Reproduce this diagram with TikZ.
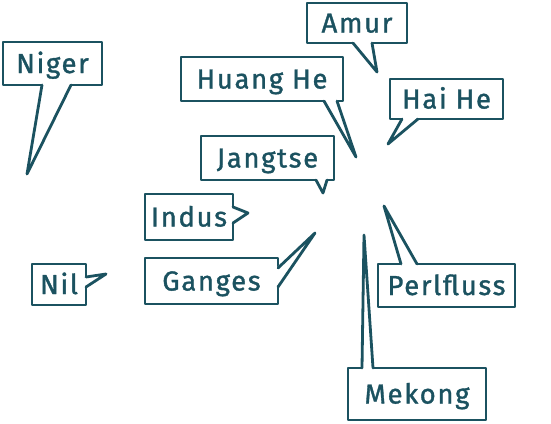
\documentclass[tikz,border=0pt]{standalone}
\usepackage{fontspec}
\setmainfont[LetterSpace=6,FakeBold=1.2]{Fira Sans}
\usetikzlibrary{calc}
\definecolor{ink}{HTML}{1B5260}
\newcommand\calltail[4]{%
  \fill[white] ($(#1)+(#4)$) -- (#2) -- ($(#3)+(#4)$) -- cycle;
  \draw[tailline] (#1) -- (#2) -- (#3);}
\begin{document}
\begin{tikzpicture}[x=1pt,y=-1pt,
  callout/.style={draw=ink, line width=2.8pt, fill=white, text=ink, inner sep=0pt, outer sep=0pt,
    font=\fontsize{27.5}{30}\selectfont, text height=19pt, text depth=0pt, line join=round},
  tailline/.style={draw=ink, line width=2.8pt, line join=round, line cap=round}]
\useasboundingbox[fill=white] (0,0) rectangle (551,423);

\node[callout, anchor=north west, minimum width=99pt, minimum height=43pt] (niger) at (3,42) {Niger};
\node[callout, anchor=north west, minimum width=100pt, minimum height=40pt] (amur) at (307,3) {Amur};
\node[callout, anchor=north west, minimum width=162pt, minimum height=44pt] (huang) at (181,57) {Huang He};
\node[callout, anchor=north west, minimum width=113pt, minimum height=40pt] (hai) at (390,79) {Hai He};
\node[callout, anchor=north west, minimum width=133pt, minimum height=44pt] (jangtse) at (201,136) {Jangtse};
\node[callout, anchor=north west, minimum width=88pt, minimum height=46pt] (indus) at (145,194) {Indus};
\node[callout, anchor=north west, minimum width=54pt, minimum height=41pt] (nil) at (32,264) {Nil};
\node[callout, anchor=north west, minimum width=133pt, minimum height=46pt] (ganges) at (145,258) {Ganges};
\node[callout, anchor=north west, minimum width=137pt, minimum height=43pt] (perl) at (378,264) {Perlfluss};
\node[callout, anchor=north west, minimum width=138pt, minimum height=52pt] (mekong) at (348,368) {Mekong};

% tails
\coordinate (nigerA) at ($(niger.south west)+(39,0)$);
\coordinate (nigerB) at ($(niger.south west)+(68,0)$);
\coordinate (nigerT) at (27,174);
\calltail{nigerA}{nigerT}{nigerB}{0,-1.8}

\coordinate (amurA) at ($(amur.south west)+(46,0)$);
\coordinate (amurB) at ($(amur.south west)+(65,0)$);
\coordinate (amurT) at (377,72);
\calltail{amurA}{amurT}{amurB}{0,-1.8}

\coordinate (huangA) at ($(huang.south west)+(143,0)$);
\coordinate (huangB) at ($(huang.south west)+(156,0)$);
\coordinate (huangT) at (356,157);
\calltail{huangA}{huangT}{huangB}{0,-1.8}

\coordinate (haiA) at ($(hai.south west)+(12,0)$);
\coordinate (haiB) at ($(hai.south west)+(28,0)$);
\coordinate (haiT) at (388,144);
\calltail{haiA}{haiT}{haiB}{0,-1.8}

\coordinate (jangtseA) at ($(jangtse.south west)+(115,0)$);
\coordinate (jangtseB) at ($(jangtse.south west)+(126,0)$);
\coordinate (jangtseT) at (323,193);
\calltail{jangtseA}{jangtseT}{jangtseB}{0,-1.8}

\coordinate (indusA) at ($(indus.north east)+(0,13)$);
\coordinate (indusB) at ($(indus.north east)+(0,29)$);
\coordinate (indusT) at (248,213);
\calltail{indusA}{indusT}{indusB}{-1.8,0}

\coordinate (nilA) at ($(nil.north east)+(0,13)$);
\coordinate (nilB) at ($(nil.north east)+(0,23)$);
\coordinate (nilT) at (106,274);
\calltail{nilA}{nilT}{nilB}{-1.8,0}

\coordinate (gangesA) at ($(ganges.north east)+(0,10)$);
\coordinate (gangesB) at ($(ganges.north east)+(0,29)$);
\coordinate (gangesT) at (315,233);
\calltail{gangesA}{gangesT}{gangesB}{-1.8,0}

\coordinate (perlA) at ($(perl.north west)+(23,0)$);
\coordinate (perlB) at ($(perl.north west)+(39,0)$);
\coordinate (perlT) at (384,206);
\calltail{perlA}{perlT}{perlB}{0,1.8}

\coordinate (mekongA) at ($(mekong.north west)+(14,0)$);
\coordinate (mekongB) at ($(mekong.north west)+(25,0)$);
\coordinate (mekongT) at (364,235);
\calltail{mekongA}{mekongT}{mekongB}{0,1.8}
\end{tikzpicture}
\end{document}
